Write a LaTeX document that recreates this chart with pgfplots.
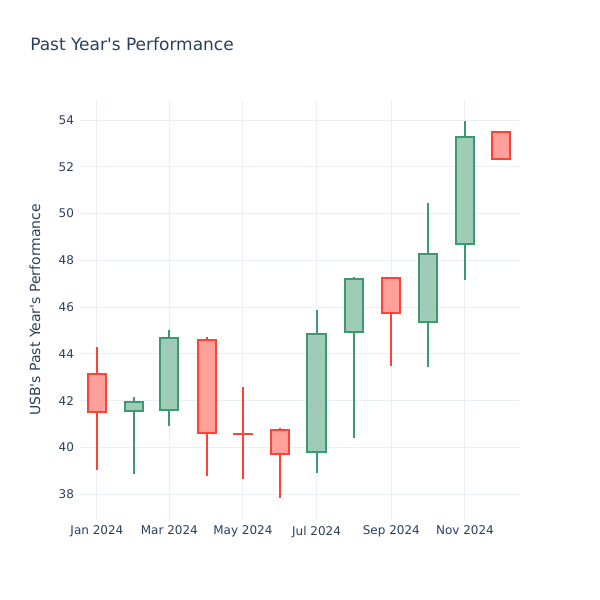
\documentclass[border=0pt]{standalone}
\usepackage{fontspec}
\setmainfont{DejaVu Sans}
\newfontfamily\dv{DejaVu Sans}
\usepackage{pgfplots}
\pgfplotsset{compat=1.18}
\usepgfplotslibrary{statistics}
\definecolor{txt}{HTML}{2A3F5F}
\definecolor{gridc}{HTML}{EBF0F8}
\definecolor{inc}{HTML}{3D9970}
\definecolor{incf}{HTML}{9ECCB7}
\definecolor{dec}{HTML}{FF4136}
\definecolor{decf}{HTML}{FFA09A}
\begin{document}
\begin{tikzpicture}
\useasboundingbox (0,0) rectangle (450pt,450pt);
\begin{axis}[
  at={(60pt,60pt)}, anchor=south west,
  width=330pt, height=315pt, scale only axis,
  xmin=-14, xmax=350.6, ymin=36.89, ymax=54.86,
  axis line style={draw=none},
  major tick length=0pt,
  grid=major, grid style={gridc, line width=0.75pt},
  xtick={0,60,121,182,244,305},
  xticklabels={Jan 2024,Mar 2024,May 2024,Jul 2024,Sep 2024,Nov 2024},
  ytick={38,40,...,54},
  /pgf/number format/assume math mode=true,
  ticklabel style={font=\dv\fontsize{9}{11}\selectfont, text=txt},
  xticklabel style={yshift=-1pt},
  yticklabel style={xshift=-1pt},
  boxplot/draw direction=y,
  every axis plot/.append style={line width=1.5pt},
]
% Jan (dec)
\addplot[draw=dec, fill=decf, boxplot prepared={draw position=0, lower whisker=39.03, lower quartile=41.51, median=41.51, upper quartile=43.12, upper whisker=44.30, box extend=15, whisker extend=0}] coordinates {};
% Feb (inc)
\addplot[draw=inc, fill=incf, boxplot prepared={draw position=31, lower whisker=38.86, lower quartile=41.55, median=41.55, upper quartile=41.95, upper whisker=42.16, box extend=15, whisker extend=0}] coordinates {};
% Mar (inc)
\addplot[draw=inc, fill=incf, boxplot prepared={draw position=60, lower whisker=40.93, lower quartile=41.59, median=41.59, upper quartile=44.69, upper whisker=45.02, box extend=15, whisker extend=0}] coordinates {};
% Apr (dec)
\addplot[draw=dec, fill=decf, boxplot prepared={draw position=91, lower whisker=38.78, lower quartile=40.63, median=40.63, upper quartile=44.59, upper whisker=44.70, box extend=15, whisker extend=0}] coordinates {};
% May (dec)
\addplot[draw=dec, fill=decf, boxplot prepared={draw position=121, lower whisker=38.63, lower quartile=40.55, median=40.55, upper quartile=40.59, upper whisker=42.59, box extend=15, whisker extend=0}] coordinates {};
% Jun (dec)
\addplot[draw=dec, fill=decf, boxplot prepared={draw position=152, lower whisker=37.82, lower quartile=39.70, median=39.70, upper quartile=40.74, upper whisker=40.81, box extend=15, whisker extend=0}] coordinates {};
% Jul (inc)
\addplot[draw=inc, fill=incf, boxplot prepared={draw position=182, lower whisker=38.88, lower quartile=39.81, median=39.81, upper quartile=44.84, upper whisker=45.87, box extend=15, whisker extend=0}] coordinates {};
% Aug (inc)
\addplot[draw=inc, fill=incf, boxplot prepared={draw position=213, lower whisker=40.41, lower quartile=44.92, median=44.92, upper quartile=47.20, upper whisker=47.27, box extend=15, whisker extend=0}] coordinates {};
% Sep (dec)
\addplot[draw=dec, fill=decf, boxplot prepared={draw position=244, lower whisker=43.49, lower quartile=45.73, median=45.73, upper quartile=47.25, upper whisker=47.27, box extend=15, whisker extend=0}] coordinates {};
% Oct (inc)
\addplot[draw=inc, fill=incf, boxplot prepared={draw position=274, lower whisker=43.45, lower quartile=45.37, median=45.37, upper quartile=48.29, upper whisker=50.44, box extend=15, whisker extend=0}] coordinates {};
% Nov (inc)
\addplot[draw=inc, fill=incf, boxplot prepared={draw position=305, lower whisker=47.14, lower quartile=48.68, median=48.68, upper quartile=53.26, upper whisker=53.96, box extend=15, whisker extend=0}] coordinates {};
% Dec (dec)
\addplot[draw=dec, fill=decf, boxplot prepared={draw position=335, lower whisker=52.32, lower quartile=52.32, median=52.32, upper quartile=53.49, upper whisker=53.49, box extend=15, whisker extend=0}] coordinates {};
\end{axis}
\node[anchor=west, text=txt, font=\dv\fontsize{12.75}{15}\selectfont, inner sep=0pt] at (22.5pt,417pt) {Past Year's Performance};
\node[rotate=90, text=txt, font=\dv\fontsize{10.5}{13}\selectfont, inner sep=0pt] at (26.25pt,217.5pt) {USB's Past Year's Performance};
\end{tikzpicture}
\end{document}
